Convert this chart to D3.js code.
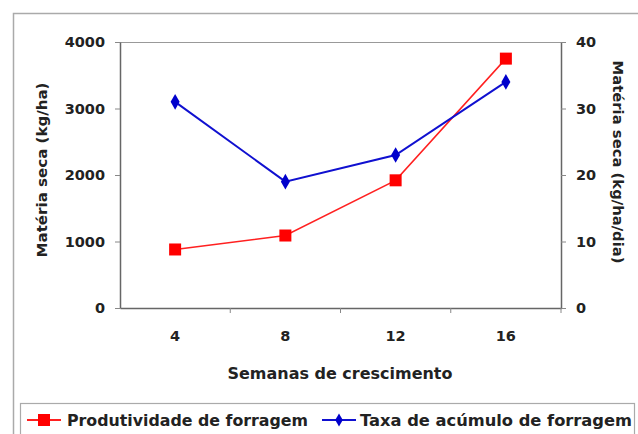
<!DOCTYPE html>
<html>
<head>
<meta charset="utf-8">
<script src="https://cdn.jsdelivr.net/npm/d3@7"></script>
<style>
  html, body { margin: 0; padding: 0; background: #fff; }
  svg { display: block; }
  text { font-family: "DejaVu Sans", "Liberation Sans", Arial, sans-serif; font-weight: bold; fill: #222; }
</style>
</head>
<body>
<svg id="chart" width="638" height="434"></svg>
<script>
// Weeks of growth (categories)
const semanas = ["4", "8", "12", "16"];
// Forage yield, kg/ha (left axis)
const produtividade = [880, 1090, 1920, 3750];
// Forage accumulation rate, kg/ha/dia (right axis)
const taxaAcumulo = [31, 19, 23, 34];
// Axis ticks
const ticksEsq = [0, 1000, 2000, 3000, 4000];
const ticksDir = [0, 10, 20, 30, 40];

const FONT = "DejaVu Sans, Liberation Sans, Arial, sans-serif";
const svg = d3.select("#chart");
const plot = { left: 120, right: 561, top: 42, bottom: 308 };

// Outer chart frame
svg.append("rect")
  .attr("x", 13.5).attr("y", 13.5)
  .attr("width", 640).attr("height", 440)
  .attr("fill", "none").attr("stroke", "#aaa").attr("stroke-width", 1.5);

const x = d3.scaleBand().domain(semanas).range([plot.left, plot.right]);
const yL = d3.scaleLinear().domain([0, 4000]).range([plot.bottom, plot.top]);
const yR = d3.scaleLinear().domain([0, 40]).range([plot.bottom, plot.top]);

// Plot-area top border
svg.append("line")
  .attr("x1", plot.left).attr("x2", plot.right)
  .attr("y1", plot.top + 0.5).attr("y2", plot.top + 0.5)
  .attr("stroke", "#999").attr("stroke-width", 1.2);

function styleAxis(g) {
  g.selectAll(".domain").attr("stroke", "#666").attr("stroke-width", 1.5);
  g.selectAll(".tick line").attr("stroke", "#888");
  g.selectAll(".tick text").attr("font-size", 14.5).attr("font-family", FONT)
    .attr("font-weight", "bold").attr("fill", "#222");
}

// Left axis
const axL = svg.append("g").attr("transform", `translate(${plot.left},0)`)
  .call(d3.axisLeft(yL).tickValues(ticksEsq).tickFormat(d3.format("d"))
    .tickSize(5).tickSizeOuter(0).tickPadding(10));
styleAxis(axL);

// Right axis
const axR = svg.append("g").attr("transform", `translate(${plot.right},0)`)
  .call(d3.axisRight(yR).tickValues(ticksDir).tickFormat(d3.format("d"))
    .tickSize(5).tickSizeOuter(0).tickPadding(10));
styleAxis(axR);

// Bottom axis: ticks between categories
const axB = svg.append("g").attr("transform", `translate(0,${plot.bottom})`)
  .call(d3.axisBottom(x).tickSize(0).tickSizeOuter(0).tickPadding(23));
styleAxis(axB);
const bounds = semanas.map(s => x(s)).concat([plot.right]);
axB.selectAll("line.sep").data(bounds.slice(1)).enter().append("line")
  .attr("class", "sep")
  .attr("x1", d => d).attr("x2", d => d)
  .attr("y1", 0).attr("y2", 5)
  .attr("stroke", "#888");

// Axis titles
svg.append("text")
  .attr("x", 340).attr("y", 379)
  .attr("text-anchor", "middle").attr("font-size", 15)
  .attr("textLength", 225).attr("lengthAdjust", "spacingAndGlyphs")
  .text("Semanas de crescimento");
svg.append("text")
  .attr("transform", `translate(47,170) rotate(-90)`)
  .attr("text-anchor", "middle").attr("font-size", 14)
  .attr("textLength", 175).attr("lengthAdjust", "spacingAndGlyphs")
  .text("Matéria seca (kg/ha)");
svg.append("text")
  .attr("transform", `translate(613,162) rotate(90)`)
  .attr("text-anchor", "middle").attr("font-size", 14)
  .attr("textLength", 203).attr("lengthAdjust", "spacingAndGlyphs")
  .text("Matéria seca (kg/ha/dia)");

const cx = d => x(d) + x.bandwidth() / 2;

// Forage yield series
svg.append("path")
  .datum(semanas.map((s, i) => [cx(s), yL(produtividade[i])]))
  .attr("d", d3.line())
  .attr("fill", "none").attr("stroke", "#ff2020").attr("stroke-width", 1.5);
svg.selectAll("rect.prod").data(semanas).enter().append("rect")
  .attr("class", "prod")
  .attr("x", d => cx(d) - 6).attr("y", (d, i) => yL(produtividade[i]) - 6)
  .attr("width", 12).attr("height", 12)
  .attr("fill", "#ff0000");

// Accumulation-rate series
svg.append("path")
  .datum(semanas.map((s, i) => [cx(s), yR(taxaAcumulo[i])]))
  .attr("d", d3.line())
  .attr("fill", "none").attr("stroke", "#1010d0").attr("stroke-width", 2);
const diamond = d3.symbol().type(d3.symbolDiamond).size(70);
svg.selectAll("path.taxa").data(semanas).enter().append("path")
  .attr("class", "taxa")
  .attr("transform", (d, i) => `translate(${cx(d)},${yR(taxaAcumulo[i])})`)
  .attr("d", diamond)
  .attr("fill", "#0000cc");

// Legend
const lg = svg.append("g");
lg.append("rect")
  .attr("x", 20.5).attr("y", 403.5).attr("width", 614).attr("height", 40)
  .attr("fill", "#fff").attr("stroke", "#aaa").attr("stroke-width", 1.2);
const legendItems = [
  { label: "Produtividade de forragem", color: "#ff2020", x0: 27, tx: 67, w: 241, shape: "square" },
  { label: "Taxa de acúmulo de forragem", color: "#1010d0", x0: 322, tx: 360, w: 272, shape: "diamond" }
];
legendItems.forEach(it => {
  lg.append("line")
    .attr("x1", it.x0).attr("x2", it.x0 + 34).attr("y1", 420).attr("y2", 420)
    .attr("stroke", it.color).attr("stroke-width", 1.8);
  if (it.shape === "square") {
    lg.append("rect").attr("x", it.x0 + 11).attr("y", 414).attr("width", 12).attr("height", 12)
      .attr("fill", "#ff0000");
  } else {
    lg.append("path").attr("transform", `translate(${it.x0 + 17},420)`)
      .attr("d", d3.symbol().type(d3.symbolDiamond).size(50)).attr("fill", "#0000cc");
  }
  lg.append("text").attr("x", it.tx).attr("y", 426).attr("font-size", 16)
    .attr("textLength", it.w).attr("lengthAdjust", "spacingAndGlyphs")
    .text(it.label);
});
</script>
</body>
</html>
